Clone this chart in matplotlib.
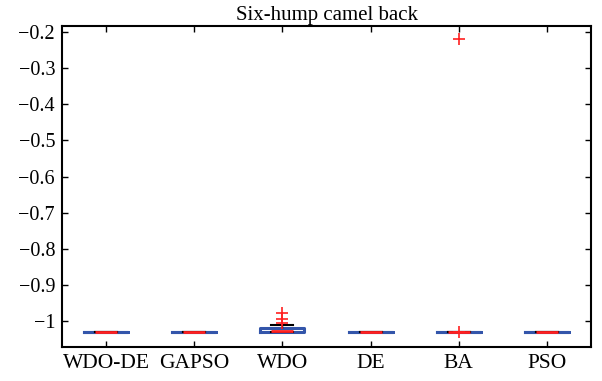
import matplotlib.pyplot as plt

plt.rcParams['font.family'] = ['Liberation Serif', 'DejaVu Serif']

algorithms = ["WDO-DE", "GAPSO", "WDO", "DE", "BA", "PSO"]
medians = [-1.0316, -1.0316, -1.027, -1.0316, -1.0316, -1.0316]
q1 = [-1.0316, -1.0316, -1.031, -1.0316, -1.0316, -1.0316]
q3 = [-1.0316, -1.0316, -1.019, -1.0316, -1.0316, -1.0316]
whislo = [-1.0316, -1.0316, -1.0316, -1.0316, -1.0316, -1.0316]
whishi = [-1.0316, -1.0316, -1.012, -1.0316, -1.0316, -1.0316]
fliers = [[], [], [-1.006, -0.995, -0.979], [], [-1.0316, -0.22], []]

stats = []
for i, name in enumerate(algorithms):
    stats.append({"label": name, "med": medians[i], "q1": q1[i], "q3": q3[i],
                  "whislo": whislo[i], "whishi": whishi[i], "fliers": fliers[i]})

fig = plt.figure(figsize=(6.02, 3.81), dpi=100)
ax = fig.add_axes([62 / 602, 34 / 381, 529 / 602, 321 / 381])

bp = ax.bxp(stats, widths=0.5,
            boxprops=dict(color="#3355aa", linewidth=2.2),
            medianprops=dict(color="#ff2020", linewidth=2),
            whiskerprops=dict(color="black", linewidth=1, linestyle="--"),
            capprops=dict(color="black", linewidth=1.5),
            flierprops=dict(marker="+", markeredgecolor="#ff2020", markersize=8,
                            markeredgewidth=1.2, linestyle="none"))

# shorter median and caps, like the MATLAB boxplot look
for line in bp["medians"] + bp["caps"]:
    xs = line.get_xdata()
    c = (xs[0] + xs[-1]) / 2
    line.set_xdata([c - 0.125, c + 0.125])

ax.set_xlim(0.5, 6.5)
ax.set_ylim(-1.072, -0.183)
ax.set_yticks([-1, -0.9, -0.8, -0.7, -0.6, -0.5, -0.4, -0.3, -0.2])
ax.set_yticklabels(["\u22121", "\u22120.9", "\u22120.8", "\u22120.7", "\u22120.6",
                    "\u22120.5", "\u22120.4", "\u22120.3", "\u22120.2"])
ax.tick_params(direction="in", length=4, width=1, labelsize=14.5,
               top=True, right=True, pad=5)
ax.tick_params(axis="x", labelsize=15.5)
for s in ax.spines.values():
    s.set_linewidth(1.5)
ax.set_title("Six-hump camel back", fontsize=15, pad=4)

fig.savefig("out.png", dpi=100)
